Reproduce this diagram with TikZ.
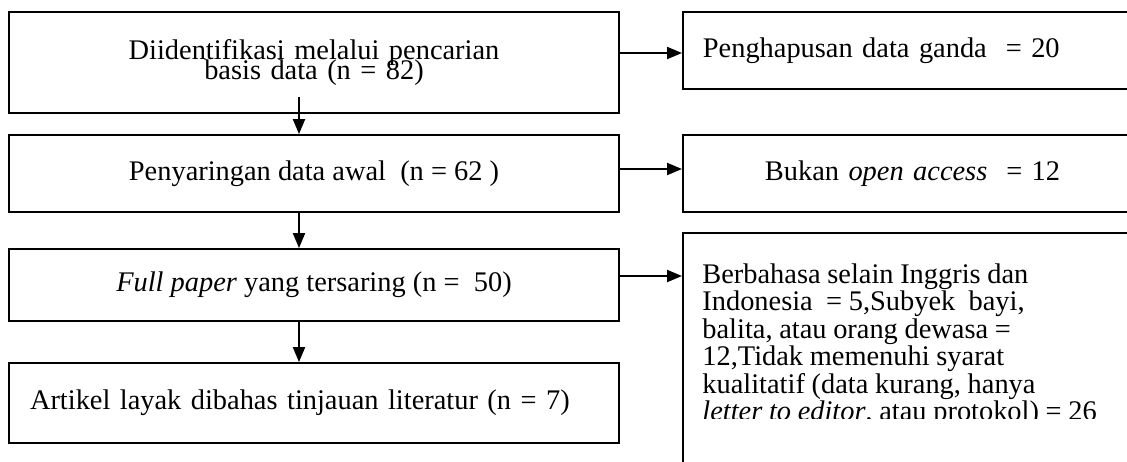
\documentclass[tikz,border=0pt]{standalone}
\usepackage{fontspec}
\setmainfont{Liberation Serif}
\usetikzlibrary{arrows.meta}
\tikzstyle{stage} = [draw=black, line width=0.9pt, minimum width=305pt, inner sep=0pt, font={\fontsize{14.2}{10}\selectfont}]
\tikzstyle{excl} = [draw=black, line width=0.9pt, minimum width=250pt, text width=230pt, inner xsep=10pt, inner ysep=0pt, align=left, font={\fontsize{14.2}{13.75}\selectfont}]
\tikzstyle{flow} = [-{Triangle[length=7.5pt,width=6pt]}, line width=1pt]
\begin{document}
\begin{tikzpicture}[x=0.5pt,y=-0.5pt]
        \useasboundingbox (0,0) rectangle (1127,461);
        \clip (0,0) rectangle (1127,461);
        % main flow
        \node[stage,minimum height=50.5pt,text width=305pt,align=center](id) at (314,62.5){\fontsize{14.2}{10}\selectfont\lineskiplimit=-20pt Diidentifikasi melalui pencarian\\basis data (n = 82)\par\vspace{4pt}};
        \node[stage,minimum height=38.5pt](scr) at (314,173.5){Penyaringan data awal~ (n = 62 )};
        \node[stage,minimum height=36pt](full) at (314,285){\textit{Full paper} yang tersaring (n =~ 50)};
        \node[stage,minimum height=40pt,text width=284pt,inner xsep=10.5pt,align=left](art) at (314,403){Artikel layak dibahas tinjauan literatur (n = 7)};
        % exclusions
        \node[excl,anchor=west,minimum height=38.5pt](dup) at (682,50.5){Penghapusan data ganda~ = 20};
        \node[excl,anchor=west,minimum height=38.5pt,inner xsep=41pt,text width=168pt](oa) at (682,173.5){Bukan \textit{open access}~ = 12};
        \node[excl,anchor=north west,minimum height=130pt](lang) at (682,232){};
        \begin{scope}
          \clip (682,232) rectangle (1127,418);
          \node[anchor=north west,inner sep=0pt,text width=215pt,align=left](langtxt) at (702,263){\fontsize{14.2}{13.75}\selectfont Berbahasa selain Inggris dan\\Indonesia~ = 5,Subyek~ bayi,\\balita, atau orang dewasa =\\12,Tidak memenuhi syarat\\kualitatif (data kurang, hanya\\\textit{letter to editor}, atau protokol) = 26\par};
        \end{scope}
        \coordinate(idout) at (299,97);
        \coordinate(a1) at (650,53);
        \coordinate(a2) at (650,169);
        \coordinate(a3) at (650,276);
        \draw[flow](idout)--(idout |- scr.north);
        \draw[flow](scr.south -| idout)--(full.north -| idout);
        \draw[flow](full.south -| idout)--(art.north -| idout);
        \draw[flow](id.east |- a1)--(dup.west |- a1);
        \draw[flow](scr.east |- a2)--(oa.west |- a2);
        \draw[flow](full.east |- a3)--(lang.west |- a3);
      \end{tikzpicture}
\end{document}
